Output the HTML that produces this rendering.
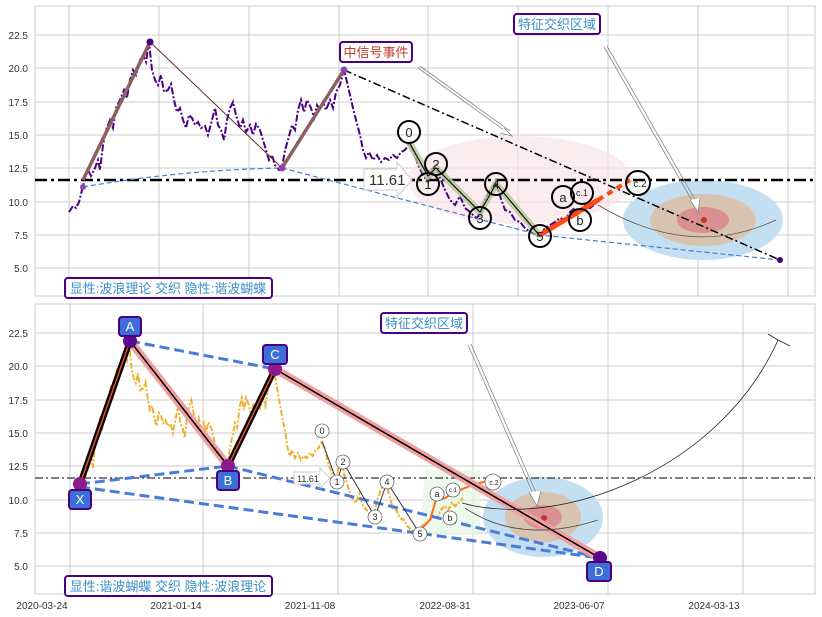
<!DOCTYPE html>
<html><head><meta charset="utf-8"><style>
html,body{margin:0;padding:0;background:#fff}
svg{display:block;font-family:"Liberation Sans","Noto Sans CJK SC",sans-serif}
</style></head><body>
<svg width="822" height="617" viewBox="0 0 822 617" xmlns="http://www.w3.org/2000/svg">
<rect width="822" height="617" fill="#fff"/>
<defs>
<path id="price" d="M69,212 L73,206 76,208 79,202 82,190 85,178 88,170 91,176 95,168 98,160 100,170 103,145 106,130 110,120 113,128 116,108 120,100 124,90 127,98 130,80 133,70 136,75 140,60 143,55 146,62 149,42 152,70 155,80 158,85 161,75 164,92 168,90 171,84 174,100 177,112 180,108 183,120 186,128 189,115 192,118 195,125 198,122 201,128 205,126 208,135 212,120 215,108 218,125 221,130 224,140 227,120 230,108 233,102 236,115 240,128 243,120 246,132 250,125 253,135 256,124 260,130 263,140 266,150 269,160 272,155 275,165 279,170 282,168 285,150 288,140 292,125 295,130 298,110 301,100 304,112 307,100 311,108 314,118 317,105 320,110 323,102 326,110 330,100 333,108 336,92 340,85 344,70 347,82 350,95 353,108 356,120 360,135 363,150 366,158 369,152 373,160 377,155 381,162 385,158 389,160 393,155 397,158 401,152 405,150 409,144 413,150 418,165 423,175 428,182 432,170 436,164 440,178 445,190 450,200 455,205 460,196 465,208 470,212 476,218 480,215 485,200 490,190 496,184 500,196 505,210 510,212 515,220 520,222 525,228 530,232 535,234 540,236 545,228 550,225 555,222 560,218 565,220 570,212 575,208 580,212 585,205 590,208 595,204 600,200"/>
</defs>
<!-- TOP PANEL -->
<g stroke="#cccccc" stroke-width="1">
<line x1="69" y1="6" x2="69" y2="296"/><line x1="159" y1="6" x2="159" y2="296"/><line x1="249" y1="6" x2="249" y2="296"/><line x1="339" y1="6" x2="339" y2="296"/><line x1="428" y1="6" x2="428" y2="296"/><line x1="518" y1="6" x2="518" y2="296"/><line x1="608" y1="6" x2="608" y2="296"/><line x1="698" y1="6" x2="698" y2="296"/><line x1="788" y1="6" x2="788" y2="296"/>
<line x1="35" y1="35" x2="815" y2="35"/><line x1="35" y1="68" x2="815" y2="68"/><line x1="35" y1="102" x2="815" y2="102"/><line x1="35" y1="135" x2="815" y2="135"/><line x1="35" y1="168" x2="815" y2="168"/><line x1="35" y1="202" x2="815" y2="202"/><line x1="35" y1="235" x2="815" y2="235"/><line x1="35" y1="268" x2="815" y2="268"/>
</g>
<rect x="35" y="6" width="780" height="290" fill="none" stroke="#cccccc"/>
<g font-size="10" fill="#333" text-anchor="end">
<text x="28" y="39">22.5</text><text x="28" y="72">20.0</text><text x="28" y="106">17.5</text><text x="28" y="139">15.0</text><text x="28" y="172">12.5</text><text x="28" y="206">10.0</text><text x="28" y="239">7.5</text><text x="28" y="272">5.0</text>
</g>
<ellipse cx="520" cy="180" rx="112" ry="44" fill="#f8e4e8" opacity="0.7"/>
<ellipse cx="703" cy="220" rx="80" ry="40" fill="#c5dff2"/>
<ellipse cx="703" cy="220" rx="53" ry="26" fill="#d7c3b0"/>
<ellipse cx="703" cy="220" rx="26" ry="13" fill="#d99090"/>
<circle cx="704" cy="220" r="3" fill="#c0392b"/>
<path d="M598,205 Q690,260 776,220" fill="none" stroke="#555" stroke-width="0.8"/>
<use href="#price" fill="none" stroke="#4b0082" stroke-width="2" stroke-dasharray="7,2,2,2"/>
<line x1="35" y1="180" x2="815" y2="180" stroke="#000" stroke-width="2.5" stroke-dasharray="12,4,3,4"/>
<path d="M83,187 Q180,170 282,168 L540,235 L780,260" fill="none" stroke="#4a7bd0" stroke-width="1.2" stroke-dasharray="5,3"/>
<line x1="344" y1="70" x2="780" y2="260" stroke="#000" stroke-width="1.5" stroke-dasharray="8,3,2,3"/>
<circle cx="780" cy="260" r="3" fill="#4b0082"/>
<path d="M83,180 L150,42" stroke="#8b6060" stroke-width="3.5"/>
<path d="M150,42 L282,168" stroke="#6b2a2a" stroke-width="1"/>
<path d="M282,168 L344,70" stroke="#8b6060" stroke-width="3.5"/>
<circle cx="83" cy="187" r="3" fill="#8e44ad"/><circle cx="150" cy="42" r="3.5" fill="#4b0082"/><circle cx="282" cy="168" r="3.5" fill="#8e44ad"/><circle cx="344" cy="70" r="3.5" fill="#8e44ad"/>
<path d="M409,142 L428,176 436,168 480,212 496,184 540,236" fill="none" stroke="#b6c59a" stroke-width="7" opacity="0.8"/>
<path d="M409,142 L428,176 436,168 480,212 496,184 540,236" fill="none" stroke="#111" stroke-width="1.2"/>
<path d="M540,235 L598,200" stroke="#ff4a10" stroke-width="5"/>
<path d="M598,200 L630,180" stroke="#ff4a10" stroke-width="4" stroke-dasharray="6,5"/>
<g fill="none" stroke="#000" stroke-width="2">
<circle cx="409" cy="132" r="11"/><circle cx="428" cy="184" r="11"/><circle cx="436" cy="164" r="11"/><circle cx="480" cy="218" r="11"/><circle cx="496" cy="184" r="11"/><circle cx="540" cy="236" r="11"/><circle cx="563" cy="197" r="11"/><circle cx="582" cy="193" r="11"/><circle cx="580" cy="220" r="11"/><circle cx="638" cy="183" r="12"/>
</g>
<g font-size="13" fill="#222" text-anchor="middle">
<text x="409" y="137">0</text><text x="428" y="189">1</text><text x="436" y="169">2</text><text x="480" y="223">3</text><text x="496" y="189">4</text><text x="540" y="241">5</text><text x="563" y="202">a</text><text x="580" y="225">b</text>
<text x="582" y="196" font-size="9">c.1</text><text x="640" y="187" font-size="10">c.2</text>
</g>
<path d="M364,169 L397,169 397,162 412,180 397,197 397,190 364,190 Z" fill="#fff" stroke="#ccc"/>
<text x="369" y="185" font-size="15" fill="#333">11.61</text>
<path d="M418,68 L508,133 M420,66 L510,131" stroke="#888" stroke-width="0.8"/>
<path d="M504,128 L512,136 500,133" fill="#fff" stroke="#888" stroke-width="0.8"/>
<path d="M604,47 L694,204 M607,46 L697,203" stroke="#888" stroke-width="0.8"/>
<path d="M690,200 L698,212 700,198" fill="#fff" stroke="#888" stroke-width="0.8"/>
<rect x="340" y="42" width="72" height="20" rx="3" fill="#fff" stroke="#4b0082" stroke-width="2"/>
<text x="376" y="57" font-size="13" fill="#c0392b" text-anchor="middle">中信号事件</text>
<rect x="514" y="14" width="86" height="20" rx="3" fill="#fff" stroke="#4b0082" stroke-width="2"/>
<text x="557" y="29" font-size="13" fill="#3a8fc8" text-anchor="middle">特征交织区域</text>
<rect x="65" y="278" width="207" height="20" rx="3" fill="#fff" stroke="#4b0082" stroke-width="2"/>
<text x="168" y="293" font-size="13" fill="#3a8fc8" text-anchor="middle">显性:波浪理论 交织 隐性:谐波蝴蝶</text>

<!-- BOTTOM PANEL -->
<g stroke="#cccccc" stroke-width="1">
<line x1="70" y1="304" x2="70" y2="594"/><line x1="203" y1="304" x2="203" y2="594"/><line x1="338" y1="304" x2="338" y2="594"/><line x1="473" y1="304" x2="473" y2="594"/><line x1="608" y1="304" x2="608" y2="594"/><line x1="743" y1="304" x2="743" y2="594"/>
<line x1="35" y1="333" x2="815" y2="333"/><line x1="35" y1="366" x2="815" y2="366"/><line x1="35" y1="400" x2="815" y2="400"/><line x1="35" y1="433" x2="815" y2="433"/><line x1="35" y1="466" x2="815" y2="466"/><line x1="35" y1="500" x2="815" y2="500"/><line x1="35" y1="533" x2="815" y2="533"/><line x1="35" y1="566" x2="815" y2="566"/>
</g>
<rect x="35" y="304" width="780" height="290" fill="none" stroke="#cccccc"/>
<g font-size="10" fill="#333" text-anchor="end">
<text x="28" y="337">22.5</text><text x="28" y="370">20.0</text><text x="28" y="404">17.5</text><text x="28" y="437">15.0</text><text x="28" y="470">12.5</text><text x="28" y="504">10.0</text><text x="28" y="537">7.5</text><text x="28" y="570">5.0</text>
</g>
<g font-size="10" fill="#333" text-anchor="middle">
<text x="42" y="609">2020-03-24</text><text x="176" y="609">2021-01-14</text><text x="310" y="609">2021-11-08</text><text x="445" y="609">2022-08-31</text><text x="579" y="609">2023-06-07</text><text x="714" y="609">2024-03-13</text>
</g>
<path d="M420,535 L425,470 L480,470 L480,535 Z" fill="#e6f7e1" opacity="0.7"/>
<ellipse cx="543" cy="517" rx="60" ry="40" fill="#c5dff2"/>
<ellipse cx="543" cy="517" rx="38" ry="25" fill="#d7c3b0"/>
<ellipse cx="543" cy="517" rx="19" ry="12" fill="#d99090"/>
<circle cx="544" cy="518" r="3" fill="#c0392b"/>
<g transform="translate(70,298) scale(0.74,1) translate(-69,0)">
<use href="#price" fill="none" stroke="#f0b030" stroke-width="2.6" stroke-dasharray="6,2,2,2"/>
</g>
<path d="M420,530 L430,520 436,500 445,498 455,492 470,486 490,480" fill="none" stroke="#ff6a20" stroke-width="2"/>
<line x1="35" y1="478" x2="815" y2="478" stroke="#000" stroke-width="1" stroke-dasharray="8,3,2,3"/>
<g stroke="#4a7bd8" stroke-width="3" stroke-dasharray="10,5" fill="none">
<line x1="130" y1="341" x2="275" y2="369"/>
<line x1="80" y1="484" x2="228" y2="466"/>
<line x1="228" y1="466" x2="600" y2="558"/>
<line x1="80" y1="487" x2="600" y2="558"/>
</g>
<path d="M130,341 L228,466 M275,369 L600,558" stroke="#f0a0a0" stroke-width="8" fill="none"/>
<path d="M130,341 L228,466 M275,369 L600,558" stroke="#000" stroke-width="1.5" fill="none"/>
<path d="M80,484 L130,341 M228,466 L275,369" stroke="#000" stroke-width="6" fill="none"/>
<path d="M80,484 L130,341 M228,466 L275,369" stroke="#e05030" stroke-width="1.5" fill="none"/>
<path d="M322,441 L337,482 343,462 375,517 387,482 420,534" fill="none" stroke="#333" stroke-width="1"/>
<circle cx="80" cy="484" r="7" fill="#8b1a8b"/><circle cx="130" cy="341" r="7" fill="#5b0a8b"/><circle cx="228" cy="466" r="7" fill="#8b1a8b"/><circle cx="275" cy="369" r="7" fill="#8b1a8b"/><circle cx="600" cy="558" r="7" fill="#5b0a8b"/>
<path d="M462,503 C560,530 720,470 778,340" fill="none" stroke="#222" stroke-width="0.8"/>
<path d="M768,334 L778,340 790,346" fill="none" stroke="#222" stroke-width="0.8"/>
<path d="M465,508 Q520,545 598,520" fill="none" stroke="#444" stroke-width="0.8"/>
<g fill="#fff" stroke="#666" stroke-width="0.8">
<circle cx="322" cy="431" r="7"/><circle cx="337" cy="482" r="7"/><circle cx="343" cy="462" r="7"/><circle cx="375" cy="517" r="7"/><circle cx="387" cy="482" r="7"/><circle cx="420" cy="534" r="7"/><circle cx="437" cy="494" r="7"/><circle cx="453" cy="490" r="7"/><circle cx="450" cy="518" r="7"/><circle cx="493" cy="482" r="8"/>
</g>
<g font-size="9" fill="#222" text-anchor="middle">
<text x="322" y="434">0</text><text x="337" y="485">1</text><text x="343" y="465">2</text><text x="375" y="520">3</text><text x="387" y="485">4</text><text x="420" y="537">5</text><text x="437" y="497">a</text><text x="450" y="521">b</text>
<text x="453" y="492" font-size="6">c.1</text><text x="494" y="485" font-size="7">c.2</text>
</g>
<path d="M294,472 L320,472 320,468 330,478 320,488 320,484 294,484 Z" fill="#fff" stroke="#ccc"/>
<text x="297" y="482" font-size="9" fill="#333">11.61</text>
<path d="M468,345 L534,496 M471,344 L537,495" stroke="#888" stroke-width="0.8"/>
<path d="M529,492 L537,506 541,491" fill="#fff" stroke="#888" stroke-width="0.8"/>
<g font-size="13" fill="#fff" text-anchor="middle">
<rect x="69" y="490" width="22" height="19" rx="3" fill="#3c6fd8" stroke="#4b0082" stroke-width="2"/><text x="80" y="504">X</text>
<rect x="119" y="317" width="22" height="19" rx="3" fill="#3c6fd8" stroke="#4b0082" stroke-width="2"/><text x="130" y="331">A</text>
<rect x="217" y="471" width="22" height="19" rx="3" fill="#3c6fd8" stroke="#4b0082" stroke-width="2"/><text x="228" y="485">B</text>
<rect x="263" y="345" width="24" height="19" rx="3" fill="#3c6fd8" stroke="#4b0082" stroke-width="2"/><text x="275" y="359">C</text>
<rect x="587" y="562" width="24" height="19" rx="3" fill="#3c6fd8" stroke="#4b0082" stroke-width="2"/><text x="599" y="576">D</text>
</g>
<rect x="381" y="313" width="86" height="20" rx="3" fill="#fff" stroke="#4b0082" stroke-width="2"/>
<text x="424" y="328" font-size="13" fill="#3a8fc8" text-anchor="middle">特征交织区域</text>
<rect x="65" y="576" width="207" height="20" rx="3" fill="#fff" stroke="#4b0082" stroke-width="2"/>
<text x="168" y="591" font-size="13" fill="#3a8fc8" text-anchor="middle">显性:谐波蝴蝶 交织 隐性:波浪理论</text>
</svg>
</body></html>
